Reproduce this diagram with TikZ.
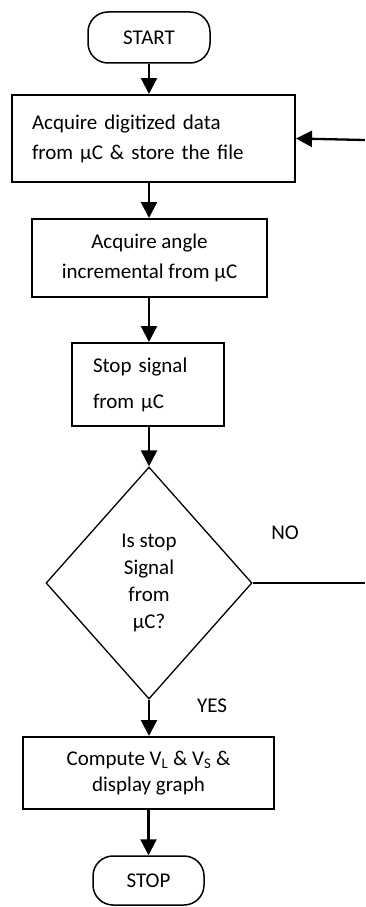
\documentclass[tikz,border=0pt]{standalone}
\usepackage{fontspec}
\setmainfont{Carlito}
\usetikzlibrary{shapes.geometric,arrows.meta}

\tikzset{
  termbox/.style={draw, line width=1.5pt, rounded corners=20pt, inner sep=0pt},
  procbox/.style={draw, line width=2pt, inner sep=0pt},
  decbox/.style={draw, diamond, line width=1.3pt, inner sep=0pt, align=center},
  flowarrow/.style={-{Triangle[width=16pt,length=16pt]}, line width=2.3pt},
  flowline/.style={line width=1.4pt}
}

\begin{document}
\begin{tikzpicture}[x=1pt,y=-1pt,font={\fontsize{21}{30}\selectfont}]
  \useasboundingbox (0,0) rectangle (365,907);

  % start and stop
  \node[termbox, minimum width=122pt, minimum height=51pt] (start) at (149,37.5) {START\hspace{20pt}};
  \node[termbox, minimum width=111pt, minimum height=49pt] (stop) at (148.5,880.5) {STOP\hspace{17pt}};

  % process blocks
  \node[procbox, minimum width=283pt, minimum height=87pt, text width=243pt, align=left] (acq) at (153.5,138.5)
    {Acquire digitized data\\from μC \& store the file};
  \node[procbox, minimum width=235pt, minimum height=78pt, align=center] (angle) at (149.5,258)
    {Acquire angle\\incremental from μC};
  \node[procbox, minimum width=152pt, minimum height=83pt, text width=110pt, align=left,
        font={\fontsize{21}{36}\selectfont}] (sig) at (148,384.5)
    {Stop signal\\from μC};
  \node[decbox, minimum width=206pt, minimum height=232pt, font={\fontsize{21}{27}\selectfont}] (dec) at (149,583)
    {Is stop\\Signal\\from\\μC?};
  \node[procbox, minimum width=251pt, minimum height=72pt, align=center,
        font={\fontsize{21}{26}\selectfont}] (comp) at (148.5,773)
    {Compute V\textsubscript{L} \& V\textsubscript{S} \&\\display graph};

  % labels
  \node (no) at (285,533) {NO};
  \node (yes) at (212,706) {YES};

  % free ends at the right edge
  \coordinate (loopin) at (365,140);
  \coordinate (loopout) at (365,583);

  % connectors
  \draw[flowarrow] (start.south) -- (start.south |- acq.north);
  \draw[flowarrow] (acq.south -| start.south) -- (angle.north -| start.south);
  \draw[flowarrow] (angle.south -| start.south) -- (sig.north -| start.south);
  \draw[flowarrow] (sig.south -| dec.north) -- (dec.north);
  \draw[flowarrow] (dec.south) -- (dec.south |- comp.north);
  \draw[flowarrow] (comp.south) -- (stop.north);
  \draw[flowline] (dec.east) -- (loopout);
  \draw[flowarrow] (loopin) -- (acq.east);
\end{tikzpicture}
\end{document}
